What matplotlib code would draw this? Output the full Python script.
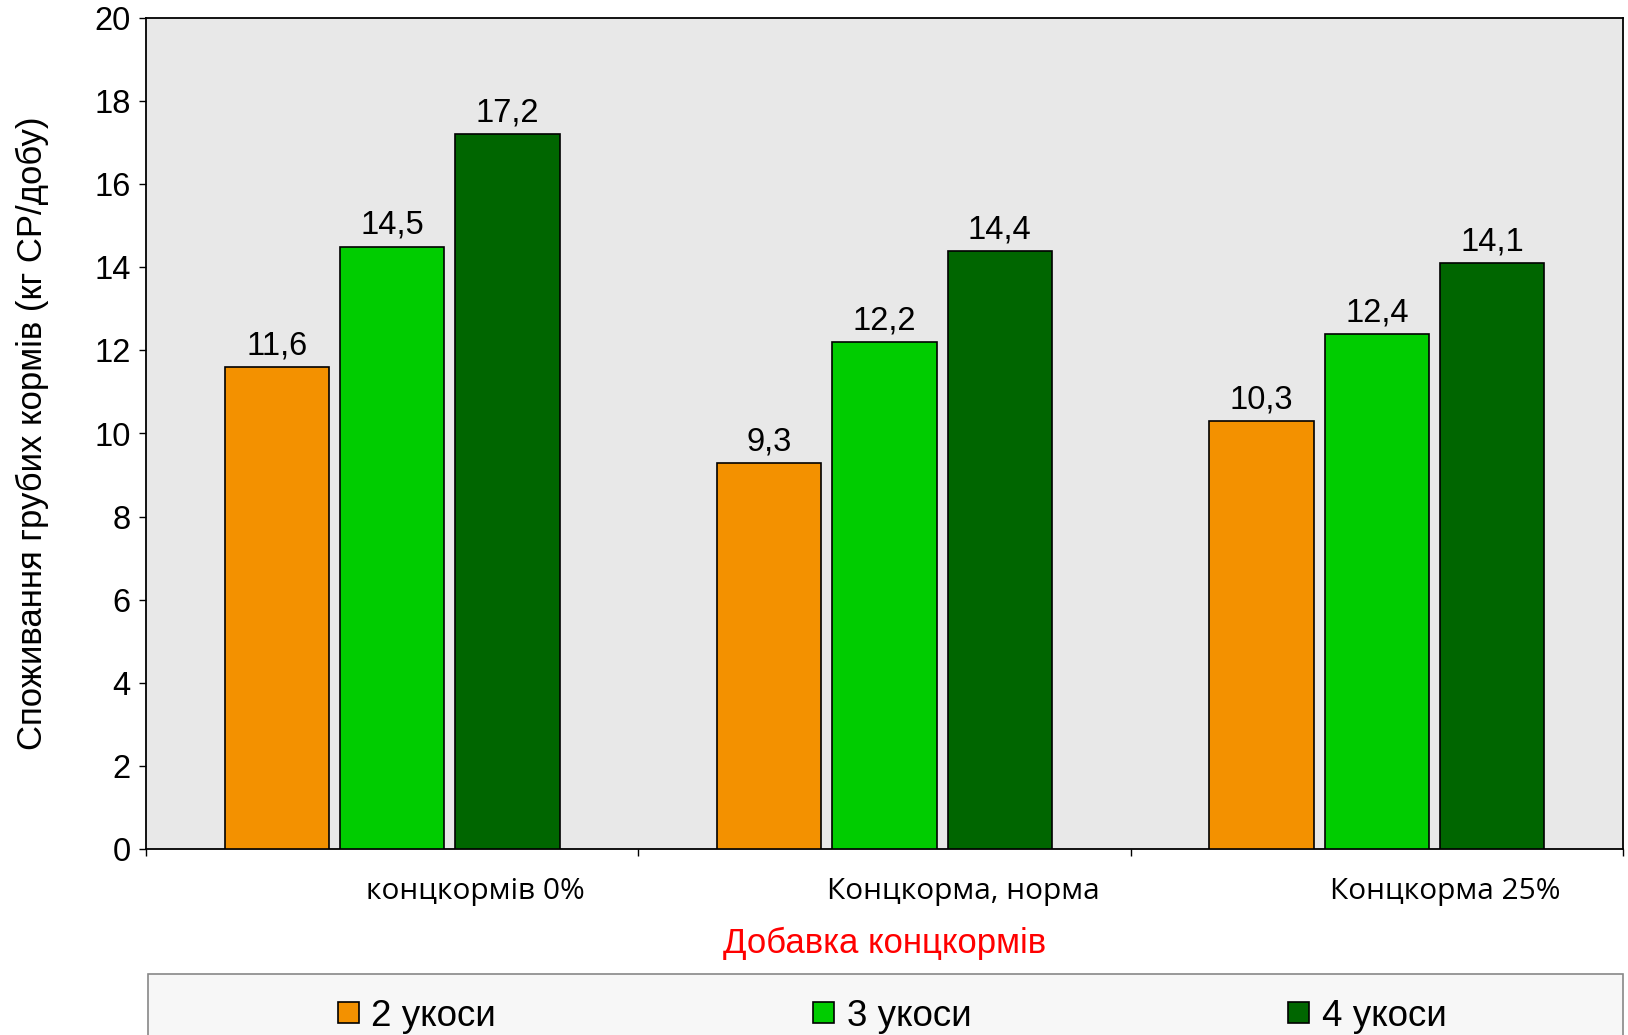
import matplotlib
matplotlib.use("Agg")
import matplotlib.pyplot as plt
import numpy as np
from matplotlib.patches import Rectangle, Patch
from matplotlib.transforms import ScaledTranslation

categories = ["концкормів 0%", "Концкорма, норма", "Концкорма 25%"]
series_names = ["2 укоси", "3 укоси", "4 укоси"]
v2 = [11.6, 9.3, 10.3]
v3 = [14.5, 12.2, 12.4]
v4 = [17.2, 14.4, 14.1]
yticks = [0, 2, 4, 6, 8, 10, 12, 14, 16, 18, 20]

colors = ["#F39100", "#00CC00", "#006600"]

plt.rcParams['font.family'] = ['Liberation Sans', 'DejaVu Sans']

W, H = 1628, 1035
fig = plt.figure(figsize=(W / 100, H / 100), dpi=100)
fig.patch.set_facecolor("white")
ax = fig.add_axes([146 / W, 1 - 849 / H, (1623 - 146) / W, (849 - 18) / H])
ax.set_facecolor("#E8E8E8")

x = np.arange(len(categories))
bw = 0.212
step = 0.234
for i, (vals, c, name) in enumerate(zip([v2, v3, v4], colors, series_names)):
    bars = ax.bar(x + (i - 1) * step, vals, width=bw, color=c, edgecolor="black",
                  linewidth=1.2, label=name, zorder=3)
    for b, v in zip(bars, vals):
        ax.annotate(f"{v:.1f}".replace(".", ","), (b.get_x() + b.get_width() / 2, v),
                    xytext=(0, 4), textcoords="offset points", ha="center", va="bottom",
                    fontsize=23.5, color="black")

ax.set_xlim(-0.5, len(categories) - 0.5)
ax.set_ylim(0, 20)
ax.set_yticks(yticks)
ax.set_yticklabels([str(t) for t in yticks])
ax.tick_params(axis="y", direction="out", length=5, width=1, labelsize=23.5, pad=6)

ax.set_xticks(x)
ax.set_xticklabels(categories, family=["Open Sans", "DejaVu Sans"])
ax.set_xticks(np.arange(-0.5, len(categories)), minor=True)
ax.tick_params(axis="x", which="major", length=0, labelsize=21.5, pad=20)
ax.tick_params(axis="x", which="minor", direction="out", length=5, width=1)
label_dx = [60, 57, 49]
for lab, dx in zip(ax.get_xticklabels(), label_dx):
    lab.set_transform(lab.get_transform() + ScaledTranslation(dx / 72, 0, fig.dpi_scale_trans))

for s in ax.spines.values():
    s.set_color("black")
    s.set_linewidth(1.3)

ax.set_xlabel("Добавка концкормів", fontsize=25, color="#FF0000")
ax.xaxis.set_label_coords(0.5, -0.094)
ax.set_ylabel("Споживання грубих кормів (кг СР/добу)", fontsize=25, color="black")
ax.yaxis.set_label_coords(-0.066, 0.5)

# legend box
rect = Rectangle((148 / W, -0.05), (1623 - 148) / W, (1035 - 974) / H + 0.05,
                 transform=fig.transFigure, facecolor="#F7F7F7", edgecolor="#888888",
                 linewidth=1.2, clip_on=False, zorder=0)
fig.patches.append(rect)
handles = [Patch(facecolor=c, edgecolor="black", linewidth=1.2) for c in colors]
leg = fig.legend(handles, series_names, loc="center", bbox_to_anchor=(892 / W, 1 - 1016 / H),
                 ncol=3, frameon=False, fontsize=26.5, handlelength=0.57, handleheight=0.52,
                 handletextpad=0.35, columnspacing=8.6)

fig.savefig("out.png", dpi=100, facecolor="white")
